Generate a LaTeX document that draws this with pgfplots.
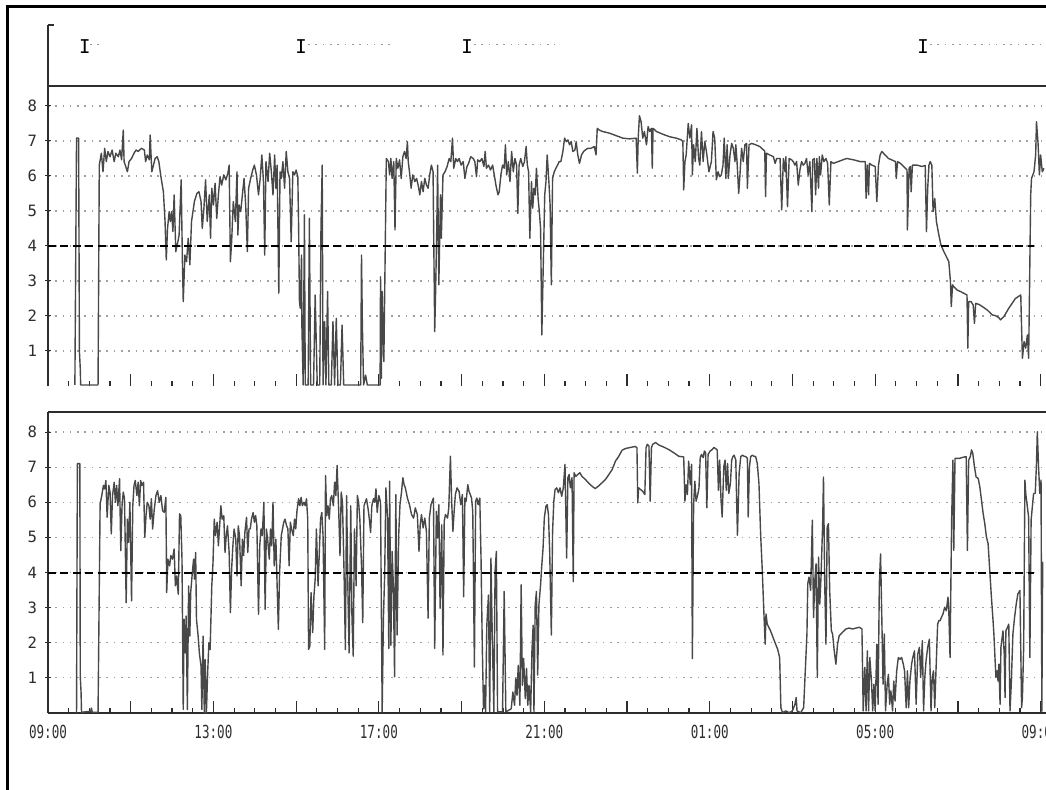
\documentclass[border=0pt]{standalone}
\usepackage{fontspec}
\usepackage{pgfplots}
\pgfplotsset{compat=1.18}
\newfontfamily\yfont{DejaVu Sans Mono}
\newfontfamily\xfont{DejaVu Sans Mono}[FakeStretch=0.7]
\definecolor{tracecol}{RGB}{72,72,72}
\definecolor{framecol}{RGB}{45,45,45}
\pgfplotsset{
 panel/.style={
  scale only axis, width=499pt, xmin=0, xmax=24.13, ymin=0, ymax=8.57,
  anchor=south west,
  xtick={0,2,...,24}, minor x tick num=3,
  ytick={1,...,8},
  tick align=inside,
  xtick style={/pgfplots/major tick length=6pt,/pgfplots/minor tick length=2.5pt,draw=framecol,line width=0.6pt},
  ytick style={/pgfplots/major tick length=3pt,xshift=-1.5pt,draw=framecol,line width=0.5pt},
  ymajorgrids, grid style={gray!75, line width=0.6pt, dash pattern=on 0.8pt off 2.85pt},
  axis line style={draw=framecol,line width=0.8pt},
  yticklabel style={font=\yfont\fontsize{7.8}{8}\selectfont, xshift=-2pt, text=framecol},
  /pgf/number format/assume math mode=true,
  axis y line*=left,
 },
 trace/.style={tracecol, line width=0.7pt, no marks, line join=round},
 thr/.style={black, line width=1pt, dash pattern=on 4pt off 2.2pt, no marks},
 dots/.style={gray!80, line width=0.6pt, dash pattern=on 0.8pt off 2.85pt, no marks},
}
\begin{document}
\begin{tikzpicture}
\path[use as bounding box] (0,0) rectangle (523pt,394.5pt);
% event strip
\begin{axis}[scale only axis, width=499pt, height=30.5pt, at={(24pt,351.5pt)}, anchor=south west,
  xmin=0, xmax=24.13, ymin=0, ymax=1, axis x line*=bottom, axis y line*=left,
  xtick=\empty, ytick=\empty, axis line style={draw=framecol,line width=0.8pt}, clip=false]
\addplot[only marks, color=framecol, mark=text, text mark={\yfont\fontsize{9.5}{9.5}\selectfont I}] coordinates {(0.89,0.65)(6.12,0.65)(10.13,0.65)(21.16,0.65)};
\addplot[dots] coordinates {(1.02,0.68)(1.33,0.68)};
\addplot[dots] coordinates {(6.29,0.68)(8.34,0.68)};
\addplot[dots] coordinates {(10.30,0.68)(12.26,0.68)};
\addplot[dots] coordinates {(21.33,0.68)(24.09,0.68)};
\draw[framecol, line width=0.8pt] (rel axis cs:0,1) -- ++(3pt,0);
\end{axis}
% panel 1
\begin{axis}[panel, height=150pt, at={(24pt,201.5pt)}, axis x line*=bottom, x axis line style={draw=none}, xticklabels={}]
\addplot[trace] coordinates {
(0.65,0.03)(0.69,7.08)(0.74,7.08)(0.76,0.98)(0.78,0.50)(0.79,0.03)(1.21,0.03)(1.24,6.31)
(1.29,6.65)(1.33,6.12)(1.37,6.79)(1.41,6.41)(1.45,6.70)(1.50,6.55)(1.55,6.74)(1.60,6.41)(1.64,6.65)(1.70,6.55)(1.74,6.74)(1.78,6.46)(1.82,7.31)(1.84,6.41)(1.88,6.27)(1.92,6.12)(1.96,6.41)(2.02,6.50)(2.08,6.65)(2.13,6.74)(2.18,6.70)(2.26,6.79)(2.33,6.74)(2.36,6.41)(2.40,6.60)(2.45,6.46)(2.47,7.17)(2.51,6.12)(2.55,6.31)(2.59,6.50)(2.64,6.55)(2.68,6.41)(2.73,5.98)(2.79,5.55)(2.83,4.70)(2.86,3.60)(2.89,4.50)(2.93,4.98)(2.96,4.70)(2.99,4.98)(3.02,4.41)(3.05,5.46)(3.09,3.84)(3.14,4.12)(3.17,4.31)(3.22,5.89)(3.25,3.55)(3.27,2.41)(3.31,3.74)(3.35,3.55)(3.39,4.22)(3.43,3.46)(3.47,4.70)(3.54,5.27)(3.60,5.50)(3.65,5.55)(3.70,5.27)(3.73,4.50)(3.77,5.08)(3.81,5.89)(3.85,4.70)(3.90,5.46)(3.93,4.22)(3.96,5.65)(4.00,5.17)(4.04,5.79)(4.08,4.79)(4.12,5.46)(4.16,5.98)(4.20,5.74)(4.25,6.03)(4.30,5.89)(4.35,6.08)(4.38,6.31)(4.41,3.55)(4.44,4.12)(4.48,5.27)(4.53,4.70)(4.57,6.12)(4.59,4.31)(4.62,5.17)(4.66,4.98)(4.70,5.46)(4.74,5.93)(4.78,5.17)(4.82,3.84)(4.85,5.65)(4.90,5.93)(4.95,6.17)(4.99,6.31)(5.04,6.03)(5.09,5.46)(5.13,5.93)(5.17,6.60)(5.21,5.84)(5.24,3.74)(5.27,6.41)(5.32,5.84)(5.36,6.65)(5.40,6.12)(5.44,5.46)(5.48,6.60)(5.51,5.65)(5.54,6.31)(5.58,2.65)(5.61,6.12)(5.64,5.93)(5.68,6.41)(5.72,5.65)(5.76,6.70)(5.80,6.12)(5.84,5.93)(5.88,4.12)(5.92,6.12)(5.96,6.03)(6.00,6.17)(6.04,5.98)(6.06,4.50)(6.08,2.41)(6.10,2.22)(6.13,3.74)(6.14,1.65)(6.17,0.03)(6.20,4.89)(6.22,0.03)(6.29,0.03)(6.32,4.79)(6.35,0.03)(6.42,0.03)(6.46,2.60)(6.51,0.03)(6.57,0.03)(6.60,4.50)(6.63,6.31)(6.65,0.03)(6.69,1.84)(6.72,0.03)(6.76,2.70)(6.79,0.03)(6.85,0.03)(6.89,1.84)(6.93,0.03)(6.97,1.93)(7.01,0.03)(7.07,0.03)(7.11,1.74)(7.15,0.03)(7.56,0.03)(7.58,3.74)(7.60,1.84)(7.63,0.03)(7.68,0.31)(7.72,0.03)(8.03,0.03)
(8.04,3.12)(8.06,0.22)(8.08,2.70)(8.12,0.70)(8.15,3.55)(8.18,6.50)(8.23,6.41)(8.26,6.03)(8.29,6.50)(8.32,5.93)(8.36,6.41)(8.39,4.46)(8.42,6.50)(8.46,6.22)(8.50,6.46)(8.54,5.93)(8.58,6.55)(8.62,6.70)(8.66,6.50)(8.69,6.98)(8.71,6.41)(8.74,6.12)(8.78,5.65)(8.82,6.03)(8.87,5.84)(8.91,5.93)(8.95,5.74)(8.99,5.46)(9.03,5.84)(9.07,5.55)(9.11,5.93)(9.15,5.74)(9.19,5.65)(9.23,6.03)(9.27,6.31)(9.31,6.12)(9.35,1.55)(9.37,2.60)(9.40,4.50)(9.42,6.31)(9.45,2.89)(9.49,5.46)(9.51,4.22)(9.55,6.03)(9.60,6.12)(9.65,6.27)(9.70,6.50)(9.74,6.41)(9.78,7.08)(9.81,6.22)(9.86,6.50)(9.90,6.41)(9.94,6.50)(9.99,6.31)(10.04,6.41)(10.08,5.93)(10.13,6.27)(10.17,6.36)(10.22,6.55)(10.28,6.50)(10.32,6.41)(10.36,5.98)(10.39,6.46)(10.44,6.41)(10.49,6.50)(10.54,6.27)(10.57,6.70)(10.60,6.22)(10.65,6.31)(10.70,6.17)(10.75,6.31)(10.79,6.03)(10.83,5.74)(10.88,5.46)(10.91,5.55)(10.95,6.03)(10.99,6.31)(11.03,6.22)(11.06,6.89)(11.09,6.03)(11.13,6.41)(11.17,5.84)(11.21,6.70)(11.25,6.12)(11.29,6.50)(11.33,6.31)(11.36,4.93)(11.39,6.31)(11.43,6.50)(11.48,6.27)(11.52,6.41)(11.56,6.84)(11.59,6.31)(11.62,6.12)(11.65,4.22)(11.69,5.84)(11.72,5.08)(11.75,5.65)(11.78,5.46)(11.81,6.22)(11.85,5.36)(11.88,4.98)(11.91,4.50)(11.94,1.46)(11.98,3.74)(12.01,5.46)(12.04,5.84)(12.07,6.60)(12.11,5.84)(12.14,5.17)(12.17,2.89)(12.20,5.93)(12.24,6.12)(12.28,6.22)(12.32,6.31)(12.36,6.41)(12.40,6.41)(12.45,6.70)(12.49,7.08)(12.53,6.98)(12.57,7.03)(12.61,6.89)(12.65,6.98)(12.69,6.70)(12.74,6.74)(12.77,6.98)(12.81,6.60)(12.85,6.36)(12.90,6.60)(12.95,6.70)(12.99,6.74)(13.05,6.79)(13.13,6.79)(13.21,6.84)(13.25,6.60)(13.28,7.36)(13.33,7.31)(13.41,7.27)(13.58,7.22)(13.74,7.15)(13.90,7.08)(14.06,7.06)(14.22,7.08)(14.25,6.08)(14.27,7.08)(14.30,7.72)(14.34,7.55)(14.38,7.08)(14.42,7.27)(14.47,6.89)(14.51,7.41)(14.55,7.27)(14.59,7.36)(14.61,6.22)(14.63,7.36)(14.71,7.27)(14.87,7.19)(15.03,7.12)(15.19,7.08)(15.31,7.03)(15.35,6.98)(15.37,5.60)(15.40,6.41)(15.43,6.60)(15.48,7.50)(15.52,7.08)(15.56,7.46)(15.58,6.03)(15.61,6.89)(15.65,6.41)(15.69,7.36)(15.73,6.50)(15.76,6.31)(15.80,7.27)(15.84,6.41)(15.88,6.98)(15.92,6.70)(15.98,6.12)
(16.04,6.41)(16.08,7.27)(16.12,7.08)(16.16,5.89)(16.20,6.12)(16.24,5.98)(16.28,6.03)(16.32,6.31)(16.35,7.08)(16.39,5.93)(16.42,6.89)(16.45,5.93)(16.49,6.60)(16.53,6.93)(16.57,6.79)(16.61,6.41)(16.63,6.89)(16.66,6.41)(16.70,5.50)(16.73,6.03)(16.77,6.79)(16.81,6.41)(16.85,6.89)(16.89,6.93)(16.91,5.65)(16.95,6.89)(17.01,6.93)(17.09,6.90)(17.21,6.84)(17.33,6.71)(17.35,5.41)(17.37,6.65)(17.45,6.60)(17.54,6.55)(17.58,6.36)(17.62,6.50)(17.70,6.50)(17.74,5.03)(17.78,6.50)(17.82,6.12)(17.84,6.55)(17.88,5.12)(17.92,6.50)(17.98,6.46)(18.02,6.41)(18.06,6.31)(18.10,6.41)(18.14,5.74)(18.18,6.17)(18.22,6.41)(18.26,6.31)(18.30,6.36)(18.34,6.50)(18.38,6.03)(18.42,6.41)(18.47,4.98)(18.49,6.46)(18.53,6.50)(18.56,5.46)(18.59,6.50)(18.63,5.65)(18.65,6.55)(18.68,6.03)(18.72,6.60)(18.76,6.41)(18.81,6.50)(18.85,6.36)(18.89,5.17)(18.93,6.41)(18.99,6.36)(19.15,6.43)(19.31,6.50)(19.48,6.46)(19.64,6.41)(19.76,6.41)(19.78,5.36)(19.81,6.31)(19.84,5.46)(19.86,6.36)(19.92,6.31)(20.00,6.27)(20.04,5.27)(20.08,6.31)(20.12,6.60)(20.16,6.70)(20.24,6.60)(20.32,6.50)(20.40,6.46)(20.49,6.41)(20.51,5.93)(20.54,6.41)(20.61,6.36)(20.69,6.27)(20.77,6.17)(20.78,4.46)(20.82,6.22)(20.85,6.27)(20.87,5.55)(20.90,6.31)(21.01,6.31)(21.13,6.27)(21.21,6.30)(21.24,4.41)(21.27,5.65)(21.30,6.31)(21.33,6.41)(21.37,6.31)(21.40,4.98)(21.44,5.36)(21.48,4.70)(21.54,4.31)(21.59,4.03)(21.66,3.84)(21.74,3.65)(21.78,3.55)(21.82,2.98)(21.84,2.27)(21.87,2.89)(21.90,2.84)(21.98,2.74)(22.06,2.70)(22.14,2.65)(22.22,2.60)(22.24,1.08)(22.26,2.41)(22.32,2.41)(22.37,2.31)(22.40,1.79)(22.43,2.36)(22.51,2.33)(22.59,2.27)(22.71,2.17)(22.83,2.03)(22.91,2.01)(22.99,1.95)(23.03,1.89)(23.11,1.98)(23.23,2.22)(23.39,2.50)(23.52,2.60)(23.54,1.65)(23.56,0.79)(23.60,1.27)(23.64,1.08)(23.68,1.46)(23.71,0.79)(23.73,2.60)(23.76,5.46)(23.78,5.93)(23.84,6.12)(23.88,6.60)(23.90,7.55)(23.94,6.89)(23.97,6.03)(24.00,6.60)(24.04,6.12)(24.08,6.22)
};
\addplot[thr] coordinates {(0,4)(23.85,4)};
\end{axis}
% panel 2
\begin{axis}[panel, height=150.5pt, at={(24pt,38pt)}, axis x line*=box, xtick pos=left, xticklabel pos=left,
  xticklabels={09:00,,13:00,,17:00,,21:00,,01:00,,05:00,,09:00},
  xticklabel style={font=\xfont\fontsize{9}{10}\selectfont, yshift=-2.3pt, text=framecol}]
\addplot[trace] coordinates {
(0.69,0.00)(0.71,7.10)(0.77,7.10)(0.78,1.05)(0.80,0.57)(0.81,0.02)(1.03,0.05)(1.05,0.14)(1.07,0.02)(1.21,0.02)(1.26,5.95)(1.30,6.19)(1.34,6.48)(1.37,6.38)(1.40,6.62)(1.43,5.57)(1.47,6.48)(1.50,6.29)(1.53,5.10)(1.56,6.19)(1.60,6.57)(1.63,6.00)(1.66,6.48)(1.69,5.90)(1.73,6.67)(1.76,4.62)(1.79,5.90)(1.82,6.29)(1.85,6.10)(1.89,3.14)(1.92,5.52)(1.95,4.86)(1.98,6.00)(2.02,3.19)(2.05,5.90)(2.08,6.48)(2.11,6.62)(2.15,6.19)(2.18,6.57)(2.21,5.90)(2.24,6.62)(2.27,6.48)(2.31,6.57)(2.34,5.00)(2.37,5.62)(2.40,6.00)(2.44,5.90)(2.47,5.52)(2.50,6.10)(2.53,5.24)(2.57,5.81)(2.61,6.19)(2.65,6.33)(2.69,6.00)(2.73,6.19)(2.77,5.76)(2.81,5.71)(2.85,6.14)(2.87,3.43)(2.90,4.38)(2.94,4.19)(2.97,4.48)(3.01,4.38)(3.05,4.67)(3.08,3.62)(3.11,3.90)(3.15,3.38)(3.18,5.67)(3.21,5.62)(3.24,4.38)(3.27,0.10)(3.29,2.67)(3.32,1.71)(3.34,2.76)(3.37,0.10)(3.40,3.62)(3.43,2.19)(3.45,3.43)(3.49,4.00)(3.52,4.38)(3.54,3.81)(3.57,4.57)(3.59,2.67)(3.63,2.19)(3.66,1.71)(3.70,1.33)(3.72,0.10)(3.75,2.19)(3.78,0.00)(3.80,1.52)(3.83,0.00)(3.86,1.14)(3.89,2.00)(3.92,1.81)(3.96,3.62)(3.99,4.29)(4.02,5.52)(4.05,5.05)(4.09,5.43)(4.12,4.76)(4.15,5.33)(4.18,5.90)(4.21,5.52)(4.25,5.62)(4.28,4.57)(4.31,5.05)(4.34,5.33)(4.38,4.57)(4.41,2.86)(4.44,4.10)(4.47,4.76)(4.50,5.24)(4.54,4.95)(4.57,3.90)(4.60,5.33)(4.63,5.05)(4.67,3.62)(4.70,4.95)(4.73,4.48)(4.76,5.14)(4.80,5.57)(4.83,4.57)(4.86,5.24)(4.89,5.24)(4.92,5.52)(4.96,5.71)(4.99,5.43)(5.02,5.62)(5.05,5.33)(5.09,2.81)(5.12,4.76)(5.15,5.24)(5.18,5.05)(5.22,6.00)(5.25,2.95)(5.28,5.24)(5.31,4.95)(5.35,4.38)(5.38,5.24)(5.41,4.76)(5.44,6.00)(5.47,4.19)(5.51,4.95)(5.54,3.62)(5.57,2.38)(5.60,4.00)(5.64,5.05)(5.67,5.24)(5.70,5.43)(5.73,5.52)(5.77,5.33)(5.80,5.24)(5.83,4.19)(5.86,5.43)(5.89,5.24)(5.93,5.05)(5.96,5.52)(5.99,5.24)(6.02,5.76)(6.06,6.10)(6.09,5.90)(6.12,6.14)(6.15,5.90)(6.19,6.00)(6.22,5.90)(6.25,6.10)(6.28,5.52)(6.30,1.81)(6.33,1.90)(6.36,3.43)(6.40,2.29)(6.43,3.33)(6.46,3.81)(6.49,5.24)(6.53,3.62)(6.56,4.57)(6.59,5.52)(6.62,5.71)(6.65,5.05)(6.69,1.81)(6.71,6.76)(6.74,5.62)(6.77,5.90)(6.80,5.52)(6.83,6.10)(6.86,6.19)(6.90,5.90)(6.93,6.57)(6.96,6.19)(6.99,7.05)(7.03,5.71)(7.06,4.48)(7.09,6.29)(7.12,6.00)(7.16,3.90)(7.19,1.81)(7.22,6.19)(7.25,3.62)(7.28,1.71)(7.32,5.90)(7.35,2.67)(7.38,1.62)(7.41,5.24)(7.45,3.62)(7.48,6.19)(7.51,6.00)(7.54,5.52)(7.58,4.19)(7.61,2.57)(7.64,5.90)(7.67,6.00)(7.70,6.10)(7.74,5.81)(7.77,5.52)(7.80,5.14)(7.83,5.90)(7.87,6.10)(7.90,6.00)(7.93,6.38)(7.96,5.71)(8.00,6.19)(8.04,6.00)
(8.08,0.03)(8.11,2.70)(8.14,3.93)(8.17,6.41)(8.21,5.55)(8.24,1.84)(8.26,6.60)(8.29,1.93)(8.32,4.60)(8.35,3.65)(8.38,1.03)(8.41,6.22)(8.44,2.22)(8.48,5.08)(8.51,5.93)(8.55,6.31)(8.58,6.70)(8.61,6.50)(8.64,6.41)(8.69,6.12)(8.74,5.93)(8.79,5.65)(8.84,5.55)(8.88,5.84)(8.93,5.65)(8.97,4.60)(9.00,5.36)(9.03,5.65)(9.07,5.27)(9.11,5.55)(9.15,5.17)(9.19,2.70)(9.22,5.55)(9.26,5.93)(9.29,6.03)(9.32,6.12)(9.35,1.84)(9.39,5.74)(9.42,4.98)(9.45,5.93)(9.48,2.98)(9.52,5.36)(9.55,1.65)(9.58,5.46)(9.61,5.65)(9.66,5.55)(9.69,5.84)(9.73,7.31)(9.76,6.03)(9.79,5.17)(9.82,5.74)(9.85,6.22)(9.89,6.41)(9.94,6.31)(9.98,5.93)(10.02,6.22)(10.05,3.31)(10.08,6.12)(10.11,6.03)(10.15,6.50)(10.18,6.31)(10.21,6.22)(10.24,6.12)(10.27,5.74)(10.31,1.31)(10.34,6.03)(10.37,6.12)(10.40,5.93)(10.44,6.12)(10.47,4.41)(10.50,1.93)(10.53,0.12)(10.55,0.79)(10.58,0.03)(10.61,2.50)(10.65,3.36)(10.68,0.03)(10.71,4.41)(10.74,2.31)(10.78,0.03)(10.81,4.03)(10.84,4.60)(10.87,0.03)(10.99,0.03)(11.03,3.46)(11.07,0.03)(11.20,0.12)(11.24,0.60)(11.28,0.22)(11.31,0.98)(11.34,0.50)(11.37,1.36)(11.41,0.22)(11.44,3.65)(11.47,0.79)(11.50,1.55)(11.54,0.41)(11.57,1.27)(11.60,0.22)(11.63,0.79)(11.67,0.03)(11.70,1.74)(11.73,2.50)(11.75,0.03)(11.78,3.08)(11.81,3.46)(11.84,1.08)(11.87,3.08)(11.91,3.65)(11.94,4.22)(11.97,4.70)(12.00,5.55)(12.04,5.89)(12.07,5.93)(12.10,5.65)(12.13,4.60)(12.17,2.22)(12.20,5.17)(12.23,6.03)(12.26,6.36)(12.30,6.41)(12.34,6.27)(12.38,6.41)(12.42,6.17)(12.46,6.41)(12.50,7.08)(12.54,4.41)(12.57,6.70)(12.60,6.79)(12.63,6.41)(12.67,6.70)(12.70,3.74)(12.72,6.84)(12.76,6.74)(12.81,6.79)(12.86,6.84)(12.91,6.74)(12.99,6.65)(13.07,6.55)(13.15,6.46)(13.23,6.39)(13.31,6.46)(13.39,6.55)(13.48,6.65)(13.56,6.79)(13.64,6.93)(13.72,7.17)(13.80,7.31)(13.88,7.48)(13.96,7.53)(14.04,7.55)(14.12,7.57)(14.20,7.59)(14.24,7.55)(14.26,5.98)(14.28,6.41)(14.33,6.36)(14.38,6.31)(14.43,6.22)(14.46,7.55)(14.49,7.65)(14.53,7.60)(14.56,6.03)(14.59,7.55)(14.62,7.65)(14.69,7.70)(14.77,7.63)(14.89,7.57)(15.01,7.50)(15.13,7.41)(15.25,7.31)(15.37,7.29)(15.40,6.03)(15.43,6.50)(15.46,6.22)(15.49,7.17)(15.53,6.50)(15.56,7.08)(15.58,1.55)(15.61,5.93)(15.64,6.60)(15.67,6.03)(15.71,6.22)(15.74,6.41)(15.77,7.27)(15.80,7.36)(15.84,7.27)(15.87,7.46)(15.90,7.41)(15.93,5.84)(15.96,7.36)(16.01,7.46)(16.06,7.50)
(16.10,7.56)(16.14,7.53)(16.18,7.49)(16.21,6.34)(16.24,7.20)(16.27,6.15)(16.30,5.58)(16.34,7.01)(16.37,7.20)(16.40,6.34)(16.43,7.10)(16.46,6.25)(16.50,6.53)(16.53,7.20)(16.56,7.30)(16.59,7.34)(16.63,7.20)(16.65,6.06)(16.67,5.06)(16.71,6.82)(16.75,7.30)(16.79,7.34)(16.83,7.31)(16.87,7.30)(16.91,7.25)(16.93,5.58)(16.96,7.01)(16.99,7.30)(17.03,7.34)(17.07,7.31)(17.11,7.30)(17.15,7.10)(17.19,6.53)(17.23,5.10)(17.27,4.06)(17.31,2.82)(17.34,1.96)(17.36,2.82)(17.39,2.53)(17.47,2.34)(17.56,2.06)(17.64,1.82)(17.69,1.58)(17.72,0.15)(17.76,0.01)(17.84,0.06)(17.92,0.01)(18.00,0.06)(18.06,0.25)(18.09,0.44)(18.11,0.06)(18.20,0.01)(18.27,0.15)(18.31,1.20)(18.35,2.25)(18.37,3.68)(18.40,3.87)(18.44,3.49)(18.48,5.49)(18.51,2.72)(18.54,3.77)(18.57,4.25)(18.60,1.01)(18.63,4.44)(18.66,3.10)(18.69,3.87)(18.73,5.39)(18.75,6.72)(18.78,3.68)(18.81,1.96)(18.84,5.30)(18.87,5.39)(18.90,3.49)(18.94,2.34)(18.97,2.25)(19.01,1.77)(19.05,1.39)(19.09,1.96)(19.13,2.20)(19.21,2.30)(19.29,2.39)(19.37,2.42)(19.45,2.39)(19.54,2.42)(19.62,2.44)(19.68,2.39)(19.71,0.06)(19.75,1.30)(19.78,0.06)(19.81,1.77)(19.84,0.06)(19.87,1.58)(19.91,0.91)(19.94,0.06)(19.97,0.82)(20.00,0.06)(20.04,1.96)(20.07,0.25)(20.10,3.68)(20.13,4.53)(20.16,2.72)(20.19,0.82)(20.22,2.25)(20.25,0.06)(20.29,0.82)(20.32,1.10)(20.35,0.25)(20.38,0.63)(20.42,0.06)(20.45,0.91)(20.48,0.34)(20.52,1.20)(20.56,1.58)(20.60,1.53)(20.64,1.58)(20.68,1.39)(20.71,1.20)(20.75,0.15)(20.78,1.20)(20.81,0.15)(20.84,0.91)(20.88,1.39)(20.91,1.58)(20.95,1.77)(20.99,0.25)(21.03,1.68)(21.07,1.87)(21.10,1.01)(21.14,2.06)(21.17,0.06)(21.20,1.01)(21.23,1.49)(21.27,1.87)(21.31,2.10)(21.35,0.06)(21.38,1.01)(21.41,1.20)(21.44,0.15)(21.47,1.20)(21.51,2.53)(21.54,2.63)(21.57,2.63)(21.60,2.72)(21.64,2.82)(21.68,3.01)(21.72,2.91)(21.76,3.30)(21.78,2.91)(21.81,1.58)(21.83,3.68)(21.85,5.58)(21.88,7.20)(21.90,4.63)(21.93,7.25)(21.98,7.25)(22.04,7.25)(22.12,7.28)(22.20,7.30)(22.23,4.63)(22.26,7.20)(22.30,7.30)(22.33,7.49)(22.36,7.39)(22.40,7.01)(22.44,6.72)(22.49,6.68)(22.53,6.44)(22.57,6.06)(22.61,5.68)(22.65,5.39)(22.69,5.01)(22.73,4.82)(22.77,4.06)(22.81,3.30)(22.85,2.63)(22.87,2.25)(22.90,1.49)(22.92,1.01)(22.95,1.20)(22.97,0.91)(22.99,1.39)(23.02,0.25)(23.04,1.87)(23.07,2.15)(23.09,2.34)(23.12,1.68)(23.14,0.44)(23.16,2.34)(23.20,2.44)(23.23,2.53)(23.26,0.06)(23.29,0.82)(23.33,2.25)(23.37,2.72)(23.41,3.10)(23.45,3.39)(23.50,3.49)(23.54,0.15)(23.56,0.44)(23.59,1.87)(23.62,6.63)(23.64,6.25)(23.67,5.96)(23.71,5.58)(23.74,1.58)(23.77,5.49)(23.80,5.87)(23.83,6.25)(23.87,6.25)(23.90,7.10)(23.92,8.01)(23.95,7.01)(23.98,6.25)(24.01,6.63)(24.03,0.05)(24.05,4.30)
};
\addplot[thr] coordinates {(0,4)(23.85,4)};
\end{axis}
\draw[black, line width=1.5pt] (3.5pt,-2pt) -- (3.5pt,391pt) -- (530pt,391pt);
\end{tikzpicture}
\end{document}
